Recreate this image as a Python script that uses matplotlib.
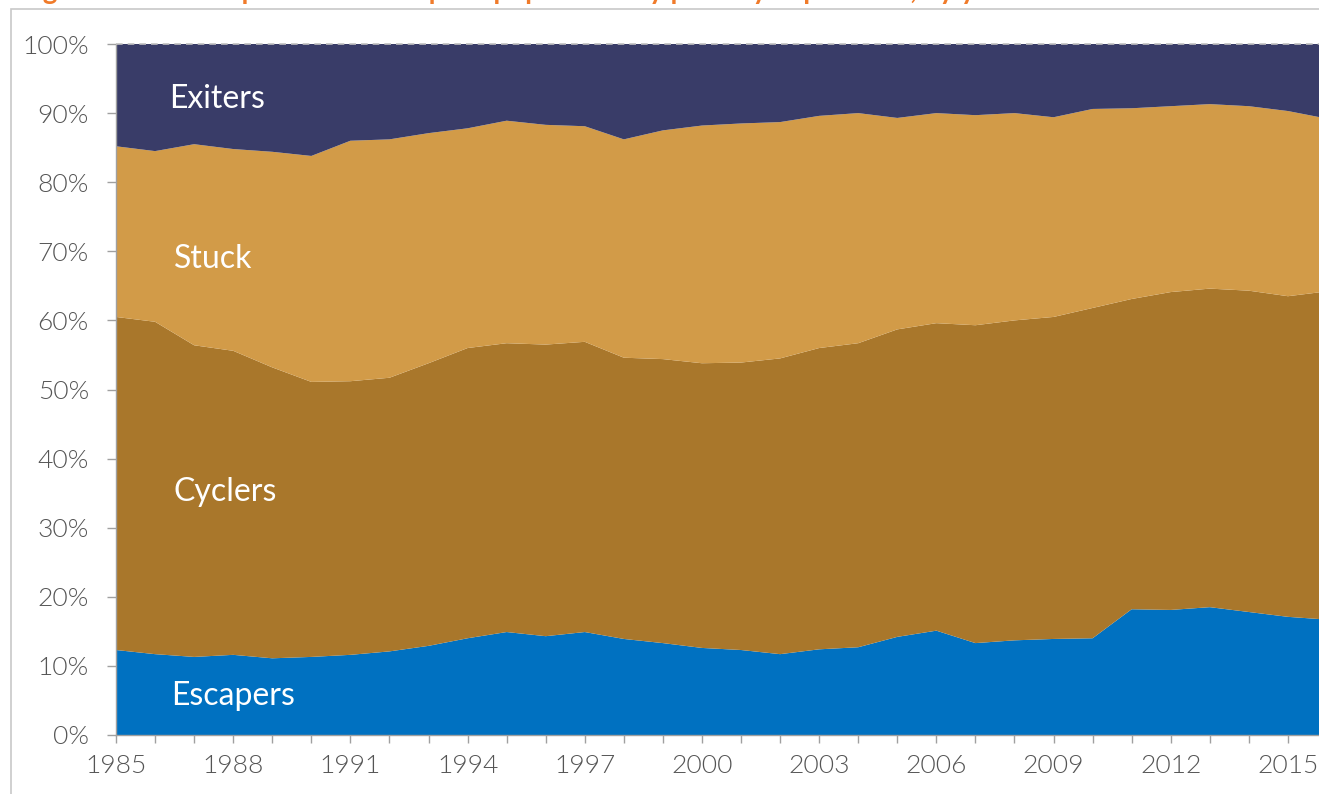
import numpy as np
import matplotlib
matplotlib.use('Agg')
import matplotlib.pyplot as plt
from matplotlib.patches import Rectangle

plt.rcParams['font.family'] = ['Lato', 'DejaVu Sans']

years = list(range(1985, 2017))

# shares of the poor population (%)
escapers = [12.3, 11.7, 11.3, 11.6, 11.1, 11.3, 11.6, 12.1, 12.9, 14.0, 14.9, 14.3, 14.9, 13.9, 13.3, 12.6,
            12.3, 11.7, 12.4, 12.7, 14.2, 15.1, 13.3, 13.7, 13.9, 14.0, 18.2, 18.1, 18.5, 17.8, 17.1, 16.7]
cyclers = [48.2, 48.1, 45.1, 44.0, 42.1, 39.8, 39.6, 39.6, 40.9, 42.0, 41.8, 42.2, 42.0, 40.7, 41.1, 41.2,
           41.6, 42.8, 43.6, 44.0, 44.5, 44.5, 46.0, 46.3, 46.6, 47.8, 44.9, 46.0, 46.1, 46.5, 46.4, 47.5]
stuck = [24.7, 24.7, 29.1, 29.2, 31.2, 32.7, 34.8, 34.5, 33.3, 31.8, 32.2, 31.8, 31.2, 31.6, 33.1, 34.4,
         34.6, 34.2, 33.6, 33.3, 30.6, 30.4, 30.4, 30.0, 28.9, 28.8, 27.6, 26.9, 26.7, 26.7, 26.8, 25.0]
exiters = [14.8, 15.5, 14.5, 15.2, 15.6, 16.2, 14.0, 13.8, 12.9, 12.2, 11.1, 11.7, 11.9, 13.8, 12.5, 11.8,
           11.5, 11.3, 10.4, 10.0, 10.7, 10.0, 10.3, 10.0, 10.6, 9.4, 9.3, 9.0, 8.7, 9.0, 9.7, 10.8]

labels = ['Escapers', 'Cyclers', 'Stuck', 'Exiters']
colors = ['#0071C1', '#A9772B', '#D29B48', '#393C68']

fig = plt.figure(figsize=(13.19, 7.94), dpi=100)
ax = fig.add_axes([116 / 1319, 59 / 794, (1327 - 116) / 1319, 691 / 794])

ax.stackplot(years, escapers, cyclers, stuck, exiters, colors=colors, linewidth=0)

ax.set_xlim(1985, 2016)
ax.set_ylim(0, 100)

ax.set_yticks(np.arange(0, 101, 10))
ax.set_yticklabels([f'{v}%' for v in range(0, 101, 10)])
ax.set_xticks(years, minor=True)
ax.set_xticks(range(1985, 2016, 3))

ax.tick_params(axis='y', direction='out', length=6.5, width=1, color='#a0a0a0',
               labelsize=19, labelcolor='#555555', pad=13)
ax.tick_params(axis='x', which='both', direction='out', length=6, width=1, color='#a0a0a0',
               labelsize=19, labelcolor='#555555', pad=8)
for t in ax.get_xticklabels() + ax.get_yticklabels():
    t.set_fontweight(300)

for s in ['top', 'right']:
    ax.spines[s].set_visible(False)
for s in ['left', 'bottom']:
    ax.spines[s].set_color('#a0a0a0')
    ax.spines[s].set_linewidth(1)

ax.axhline(100, color='#c0c0c0', linestyle=(0, (4, 3)), linewidth=1.2, clip_on=False, zorder=5)

# in-chart category labels (baseline positions)
label_pos = {'Exiters': (1986.35, 90.7), 'Stuck': (1986.48, 67.6),
             'Cyclers': (1986.48, 33.9), 'Escapers': (1986.42, 4.3)}
for name, (x, y) in label_pos.items():
    ax.text(x, y, name, color='white', fontsize=23, va='baseline', ha='left')

# outer frame of the figure box
fig.patches.append(Rectangle((11 / 1319, -0.1), 1.2, (785 / 794) + 0.1, transform=fig.transFigure,
                             fill=False, edgecolor='#c8c8c8', linewidth=1.2))

# title, clipped at the top edge as in the source
fig.text(20 / 1319, 1.0 + 1 / 794, 'Figure 4: The composition of the poor population by poverty experience, by year',
         color='#F07B2A', fontsize=20, fontweight='bold', va='baseline', ha='left')

fig.savefig('out.png', dpi=100)
